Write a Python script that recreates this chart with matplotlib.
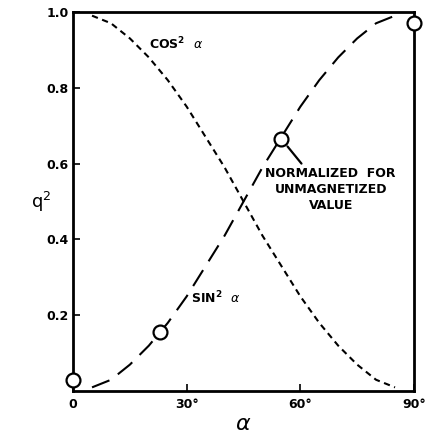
import numpy as np
import matplotlib as mpl
import matplotlib.pyplot as plt

mpl.rcParams['font.family'] = 'DejaVu Sans'
mpl.rcParams['axes.linewidth'] = 2.0

# curves, every 5 degrees
alpha = [0, 5, 10, 15, 20, 25, 30, 35, 40, 45, 50, 55, 60, 65, 70, 75, 80, 85, 90]
cos2 = [1.00, 0.99, 0.97, 0.93, 0.88, 0.82, 0.75, 0.67, 0.59, 0.50,
        0.41, 0.33, 0.25, 0.18, 0.12, 0.07, 0.03, 0.01, 0.00]
sin2 = [0.00, 0.01, 0.03, 0.07, 0.12, 0.18, 0.25, 0.33, 0.41, 0.50,
        0.59, 0.67, 0.75, 0.82, 0.88, 0.93, 0.97, 0.99, 1.00]

# measured points (open circles)
meas_alpha = [0, 23, 55, 90]
meas_q = [0.03, 0.155, 0.665, 0.97]

xticks = [0, 30, 60, 90]
xticklabels = ['0', '30°', '60°', '90°']
yticks = [0.2, 0.4, 0.6, 0.8, 1.0]
yticklabels = ['0.2', '0.4', '0.6', '0.8', '1.0']

fig = plt.figure(figsize=(4.25, 4.4), dpi=100)
ax = fig.add_axes([0.172, 0.111, 0.802, 0.862])

ax.plot(alpha[1:-1], cos2[1:-1], color='black', lw=1.5, dashes=(3, 2.2))
ax.plot(alpha[1:-1], sin2[1:-1], color='black', lw=1.5, dashes=(9, 5))
ax.plot(meas_alpha, meas_q, 'o', ms=10, mfc='white', mec='black', mew=1.6,
        clip_on=False, zorder=5)

ax.set_xlim(0, 90)
ax.set_ylim(0, 1.0)
ax.set_xticks(xticks)
ax.set_xticklabels(xticklabels, fontweight='bold', fontsize=9)
ax.set_yticks(yticks)
ax.set_yticklabels(yticklabels, fontweight='bold', fontsize=9)
ax.tick_params(direction='in', length=5, width=1.2, pad=3)
ax.tick_params(axis='x', pad=5)

ax.text(20, 0.915, r'COS$^\mathbf{2}$  $\alpha$', fontsize=9, fontweight='bold',
        va='center')
ax.text(31, 0.245, r'SIN$^\mathbf{2}$  $\alpha$', fontsize=9, fontweight='bold',
        va='center')
ax.text(68, 0.533, 'NORMALIZED  FOR\nUNMAGNETIZED\nVALUE', fontsize=9,
        fontweight='bold', ha='center', va='center', linespacing=1.3)
ax.annotate('', xy=(meas_alpha[2], meas_q[2]), xytext=(60.3, 0.60),
            arrowprops=dict(arrowstyle='-', color='black', lw=1.6,
                            shrinkA=0, shrinkB=7))

ax.set_xlabel(r'$\alpha$', fontsize=16, labelpad=2)
ax.set_ylabel(r'q$^2$', fontsize=13, rotation=0, labelpad=4, va='center')

fig.savefig('out.png', dpi=100)
